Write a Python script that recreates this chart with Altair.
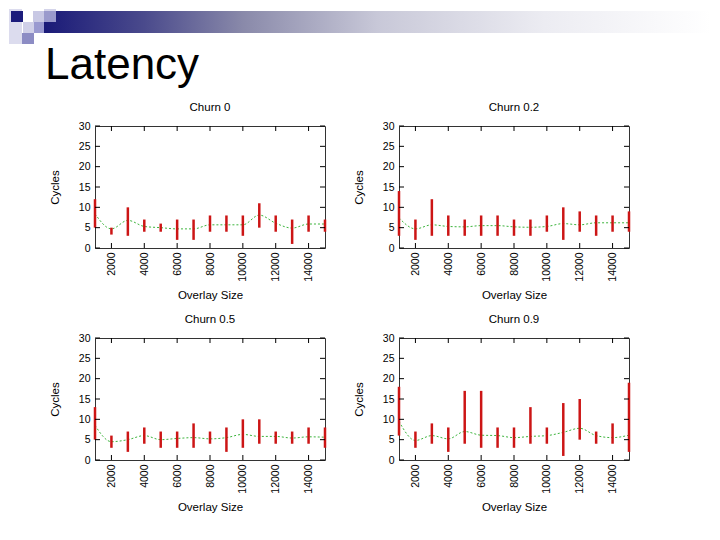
import altair as alt
import pandas as pd

# ---------------- data ----------------
slide_title = "Latency"
overlay_size = [1000, 2000, 3000, 4000, 5000, 6000, 7000, 8000,
                9000, 10000, 11000, 12000, 13000, 14000, 15000]
panel_titles = ["Churn 0", "Churn 0.2", "Churn 0.5", "Churn 0.9"]

churn0_lo = [5, 3.3, 3, 4, 4, 2, 2, 4, 4, 3, 5, 4, 1, 4, 4]
churn0_hi = [12, 5, 10, 7, 6, 7, 7, 8, 8, 8, 11, 8, 7, 8, 7]
churn0_mean = [8.4, 4.7, 6.8, 5.3, 5.0, 4.7, 4.7, 5.7, 5.7, 5.7, 8.1, 6.1, 4.9, 5.9, 5.9]

churn02_lo = [3, 2, 3, 3, 3, 3, 3, 3, 3, 4, 2, 4, 3, 4, 4]
churn02_hi = [14, 7, 12, 8, 7, 8, 8, 7, 7, 8, 10, 9, 8, 8, 9]
churn02_mean = [7.4, 4.7, 5.7, 5.3, 5.2, 5.5, 5.5, 5.2, 5.1, 5.3, 6.0, 5.7, 6.2, 6.2, 6.2]

churn05_lo = [5, 3, 2, 4, 3, 3, 3, 4, 2, 3, 4, 4, 4, 4, 3]
churn05_hi = [13, 6, 7, 8, 7, 7, 9, 7, 8, 10, 10, 7, 7, 8, 8]
churn05_mean = [8.5, 4.5, 5.0, 6.0, 5.0, 5.3, 5.5, 5.2, 5.5, 6.3, 5.8, 5.8, 5.4, 5.7, 5.6]

churn09_lo = [6, 3, 4, 2, 4, 3, 3, 3, 4, 4, 1, 5, 4, 4, 2]
churn09_hi = [18, 7, 9, 8, 17, 17, 8, 8, 13, 8, 14, 15, 7, 9, 19]
churn09_mean = [9.5, 4.8, 6.0, 5.2, 7.0, 6.1, 6.0, 5.5, 5.8, 6.0, 6.8, 7.8, 6.0, 5.5, 6.1]

y_tick_values = [0, 5, 10, 15, 20, 25, 30]
x_tick_values = [2000, 4000, 6000, 8000, 10000, 12000, 14000]

# ---------------- style ----------------
FONT = "Liberation Sans"
W, H = 230, 122
TICK = 5
RED = "#cc1515"
GREEN = "#3cb43c"

xscale = alt.Scale(domain=[1000, 15000], nice=False, zero=False)
yscale = alt.Scale(domain=[0, 30], nice=False)
x_axis = alt.Axis(values=x_tick_values, format="d", labelAngle=270, labelOverlap=False,
                  labelPadding=4, titlePadding=8)
y_axis = alt.Axis(values=y_tick_values, format="d", labelOverlap=False,
                  labelPadding=5, titlePadding=18)


def X(field):
    return alt.X(field, scale=xscale, title="Overlay Size", axis=x_axis)


def Y(field):
    return alt.Y(field, scale=yscale, title="Cycles", axis=y_axis)


def panel(title, lo, hi, mean, extra=None):
    df = pd.DataFrame({"size": overlay_size, "lo": lo, "hi": hi, "mean": mean})
    base = alt.Chart(df)
    line = base.mark_line(interpolate="monotone", color=GREEN, strokeWidth=1,
                          strokeDash=[2, 2]).encode(x=X("size:Q"), y=Y("mean:Q"))
    bars = base.mark_rule(color=RED, strokeWidth=2.5).encode(
        x=X("size:Q"), y=Y("lo:Q"), y2="hi:Q")
    ydf = pd.DataFrame({"v": y_tick_values})
    xdf = pd.DataFrame({"v": x_tick_values})
    yt_l = alt.Chart(ydf).mark_rule(color="black", strokeWidth=1).encode(
        y=Y("v:Q"), x=alt.value(0), x2=alt.value(TICK))
    yt_r = alt.Chart(ydf).mark_rule(color="black", strokeWidth=1).encode(
        y=Y("v:Q"), x=alt.value(W - TICK), x2=alt.value(W))
    xt_b = alt.Chart(xdf).mark_rule(color="black", strokeWidth=1).encode(
        x=X("v:Q"), y=alt.value(H - TICK), y2=alt.value(H))
    xt_t = alt.Chart(xdf).mark_rule(color="black", strokeWidth=1).encode(
        x=X("v:Q"), y=alt.value(0), y2=alt.value(TICK))
    ttl = alt.Chart(pd.DataFrame({"t": [title]})).mark_text(
        font=FONT, fontSize=11.5, align="center", baseline="alphabetic", color="black"
    ).encode(text="t:N", x=alt.value(W / 2), y=alt.value(-15))
    layers = [line, bars, yt_l, yt_r, xt_b, xt_t, ttl]
    if extra:
        layers += extra
    return alt.layer(*layers).properties(width=W, height=H)


# ---------------- slide decoration (drawn relative to panel 1) ----------------
one = pd.DataFrame({"t": [slide_title]})


def deco_rect(x1, x2, y1, y2, color):
    return alt.Chart(one).mark_rect(color=color).encode(
        x=alt.value(x1), x2=alt.value(x2), y=alt.value(y1), y2=alt.value(y2))


gradient = alt.LinearGradient(
    gradient="linear", x1=0, x2=1, y1=0, y2=0,
    stops=[alt.GradientStop(color="#1a1a78", offset=0),
           alt.GradientStop(color="#4a4a8c", offset=0.15),
           alt.GradientStop(color="#8a8aaa", offset=0.3),
           alt.GradientStop(color="#c8c8d8", offset=0.5),
           alt.GradientStop(color="#ececf2", offset=0.75),
           alt.GradientStop(color="#ffffff", offset=1)])

bar = alt.Chart(one).mark_rect(color=gradient).encode(
    x=alt.value(-51), x2=alt.value(616), y=alt.value(-115), y2=alt.value(-93))

decor = [
    deco_rect(-86, -73, -117, -82, "#dcdcee"),
    deco_rect(-73, -61, -84, -82, "#e8e8f4"),
    bar,
    deco_rect(-84, -72, -115, -104, "#1c1c7c"),
    deco_rect(-62, -51, -115, -104, "#c8c8e4"),
    deco_rect(-51, -39, -117, -115, "#d4d4ea"),
    deco_rect(-51, -39, -115, -104, "#9a9acc"),
    deco_rect(-72, -61, -104, -93, "#d0d0e8"),
    deco_rect(-61, -51, -104, -93, "#9a9ad0"),
    deco_rect(-73, -61, -93, -82, "#8c8cc4"),
    alt.Chart(one).mark_text(font=FONT, fontSize=44, align="left",
                             baseline="alphabetic", color="black").encode(
        text="t:N", x=alt.value(-50), y=alt.value(-47)),
]

p1 = panel(panel_titles[0], churn0_lo, churn0_hi, churn0_mean, decor)
p2 = panel(panel_titles[1], churn02_lo, churn02_hi, churn02_mean)
p3 = panel(panel_titles[2], churn05_lo, churn05_hi, churn05_mean)
p4 = panel(panel_titles[3], churn09_lo, churn09_hi, churn09_mean)

chart = alt.ConcatChart(
    concat=[p1, p2, p3, p4], columns=2, bounds="flush",
    spacing={"row": 90, "column": 74},
).properties(padding=0, background="white").configure_view(
    stroke="#333333", strokeWidth=1
).configure_axis(
    labelFont=FONT, labelFontSize=10.5, labelColor="black",
    titleFont=FONT, titleFontSize=11.5, titleFontWeight="normal", titleColor="black",
    domain=False, ticks=False, tickSize=0, grid=False,
)

chart.save("out.html", embed_options={"renderer": "svg", "actions": False})
